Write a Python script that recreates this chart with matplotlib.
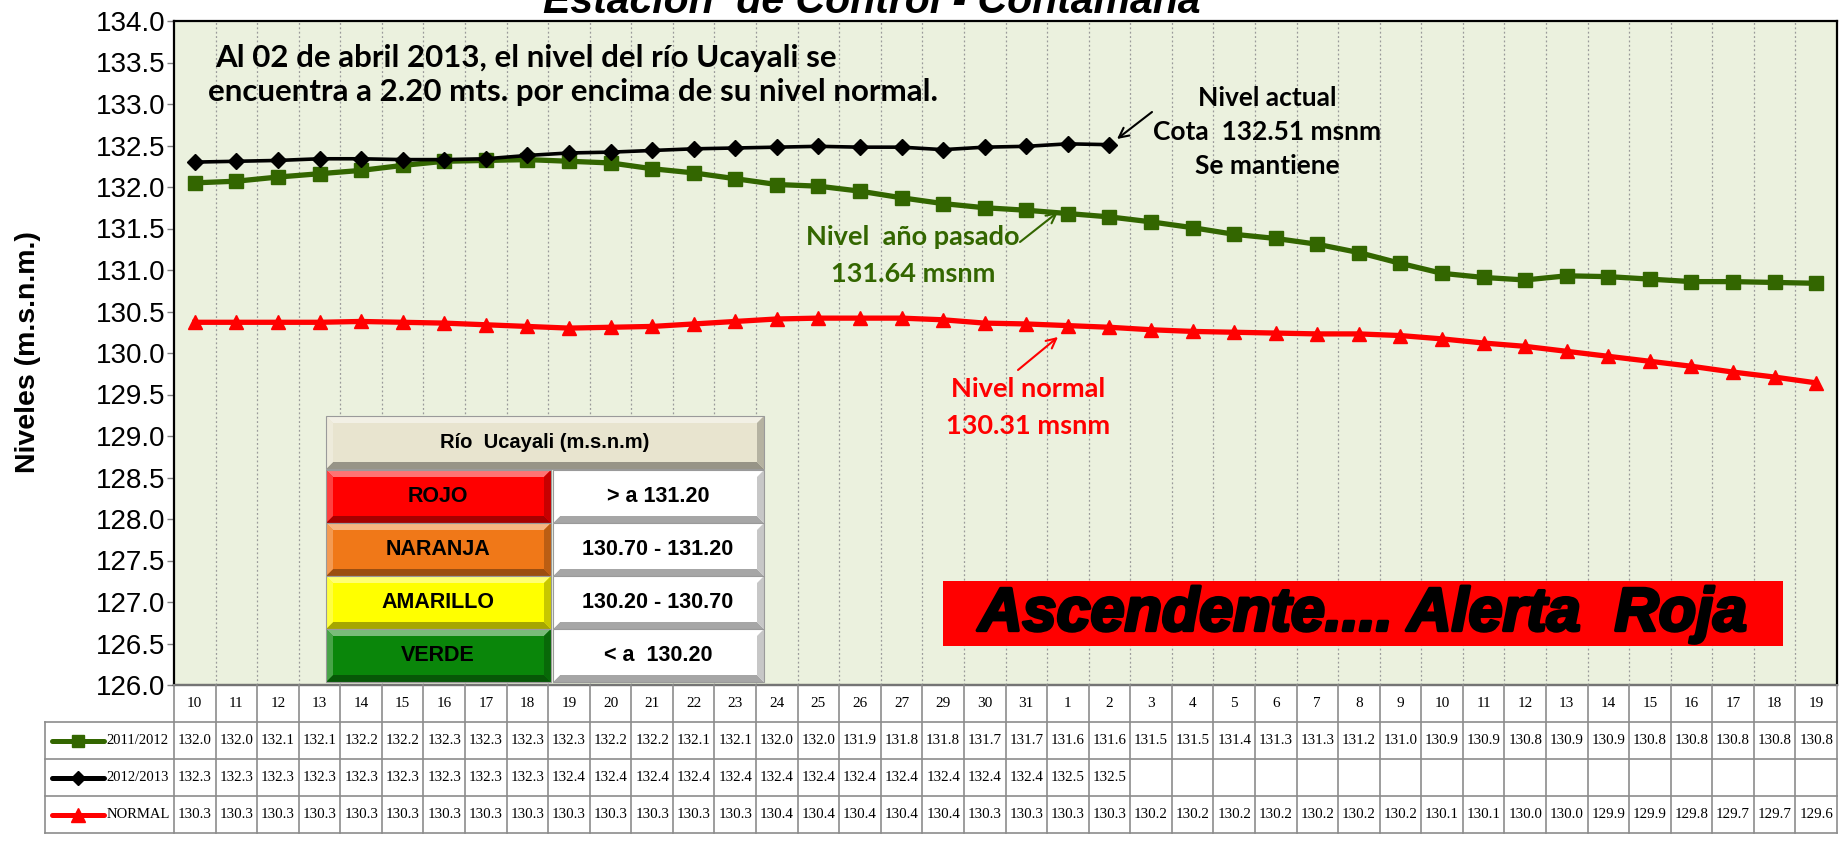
import math
import numpy as np
import matplotlib
matplotlib.use('Agg')
import matplotlib.pyplot as plt
from matplotlib.patches import Rectangle, Polygon
from matplotlib.lines import Line2D
from matplotlib.transforms import Affine2D
import matplotlib.patheffects as pe
import matplotlib.colors as mcolors

# ---------------- data ----------------
days = ['10', '11', '12', '13', '14', '15', '16', '17', '18', '19', '20', '21', '22',
        '23', '24', '25', '26', '27', '29', '30', '31', '1', '2', '3', '4', '5', '6',
        '7', '8', '9', '10', '11', '12', '13', '14', '15', '16', '17', '18', '19']

lvl_2011 = [132.05, 132.07, 132.12, 132.16, 132.20, 132.26, 132.31, 132.32, 132.33, 132.31,
            132.29, 132.22, 132.17, 132.10, 132.03, 132.01, 131.95, 131.87, 131.80, 131.75,
            131.72, 131.68, 131.64, 131.58, 131.51, 131.43, 131.38, 131.31, 131.21, 131.08,
            130.96, 130.91, 130.88, 130.93, 130.92, 130.89, 130.86, 130.86, 130.85, 130.84]

lvl_2012 = [132.30, 132.31, 132.32, 132.34, 132.34, 132.33, 132.33, 132.34, 132.38, 132.41,
            132.42, 132.44, 132.46, 132.47, 132.48, 132.49, 132.48, 132.48, 132.45, 132.48,
            132.49, 132.52, 132.51]

lvl_normal = [130.37, 130.37, 130.37, 130.37, 130.38, 130.37, 130.36, 130.34, 130.32, 130.30,
              130.31, 130.32, 130.35, 130.38, 130.41, 130.42, 130.42, 130.42, 130.40, 130.36,
              130.35, 130.33, 130.31, 130.28, 130.26, 130.25, 130.24, 130.23, 130.23, 130.21,
              130.17, 130.12, 130.08, 130.02, 129.96, 129.90, 129.84, 129.77, 129.71, 129.64]

series_names = ['2011/2012', '2012/2013', 'NORMAL']
y_ticks = np.arange(126.0, 134.01, 0.5)

alert_title = 'Río  Ucayali (m.s.n.m)'
alert_names = ['ROJO', 'NARANJA', 'AMARILLO', 'VERDE']
alert_ranges = ['> a 131.20', '130.70 - 131.20', '130.20 - 130.70', '< a  130.20']
alert_colors = ['#FF0000', '#F07818', '#FFFF00', '#0A860A']

# ---------------- figure ----------------
W, H = 1843, 843
fig = plt.figure(figsize=(W / 100, H / 100), dpi=100)
fig.patch.set_facecolor('white')
P = Affine2D().scale(1 / W, -1 / H).translate(0, 1) + fig.transFigure  # pixel coords, y down

SANS = ['Liberation Sans', 'DejaVu Sans']
SERIF = ['Liberation Serif', 'DejaVu Serif']
CAL = ['Lato', 'DejaVu Sans']

L, R, T, B = 174, 1837, 21, 685
ax = fig.add_axes([L / W, 1 - B / H, (R - L) / W, (B - T) / H])
ax.set_facecolor('#EBF1DE')
n = len(days)
x = np.arange(n)
ax.set_xlim(-0.5, n - 0.5)
ax.set_ylim(126, 134)
for b in np.arange(0.5, n - 0.5, 1):
    ax.axvline(b, color='#9a9a9a', lw=0.9, ls=(0, (1.5, 2)), zorder=1)

c_green = '#336600'
ax.plot(x, lvl_2011, color=c_green, lw=3.8, marker='s', ms=9.5, zorder=3)
ax.plot(x, lvl_normal, color='#FF0000', lw=3.8, marker='^', ms=10, zorder=4)
ax.plot(x[:len(lvl_2012)], lvl_2012, color='black', lw=2.6, marker='D', ms=8.5, zorder=5)

ax.set_yticks(y_ticks)
ax.set_yticklabels([f'{v:.1f}' for v in y_ticks], family=SANS, fontsize=20)
ax.tick_params(axis='y', length=5, width=1, color='#808080', pad=1)
ax.set_xticks([])
for s in ax.spines.values():
    s.set_color('black')
    s.set_linewidth(1.6)

fig.text(28 / W, 1 - 352 / H, 'Niveles (m.s.n.m.)', rotation=90, ha='center', va='center',
         fontsize=20.5, fontweight='bold', family=SANS)

fig.text(872 / W, 1 - 13 / H, 'Estación  de Control - Contamana', ha='center', va='baseline',
         fontsize=29.5, fontweight='bold', style='italic', family=SANS)

# ---------------- data table ----------------
def trunc1(v):
    return math.floor(v * 10 + 1e-6) / 10

TB = 833
tax = fig.add_axes([L / W, 1 - TB / H, (R - L) / W, (TB - B) / H])
tax.set_xlim(-0.5, n - 0.5)
tax.set_ylim(0, 4)
tax.axis('off')
unit = (R - L) / n
x_left = -0.5 - (L - 45) / unit
gc = '#8c8c8c'
tax.plot([-0.5, n - 0.5], [4, 4], color=gc, lw=1.2, clip_on=False)
for yy in [3, 2, 1, 0]:
    tax.plot([x_left, n - 0.5], [yy, yy], color=gc, lw=1.2, clip_on=False)
for bx in np.arange(-0.5, n, 1):
    tax.plot([bx, bx], [0, 4], color=gc, lw=1.2, clip_on=False)
tax.plot([x_left, x_left], [0, 3], color=gc, lw=1.2, clip_on=False)

for i, d in enumerate(days):
    tax.text(i, 3.5, d, ha='center', va='center', fontsize=11, family=SERIF)

rows = [(lvl_2011, c_green, 's', 8), (lvl_2012, 'black', 'D', 7), (lvl_normal, '#FF0000', '^', 10)]
for r, (vals, col, mk, msz) in enumerate(rows):
    yc = 2.5 - r
    for i, v in enumerate(vals):
        tax.text(i, yc, f'{trunc1(v):.1f}', ha='center', va='center', fontsize=10.8,
                 family=SERIF)
    lx0 = x_left + (52 - 45) / unit
    lx1 = x_left + (104 - 45) / unit
    tax.add_line(Line2D([lx0, lx1], [yc, yc], color=col, lw=3.6, solid_capstyle='round',
                        clip_on=False))
    tax.add_line(Line2D([(lx0 + lx1) / 2], [yc], color=col, marker=mk, ms=msz, clip_on=False))
    tax.text(lx1 + 0.06, yc, series_names[r], ha='left', va='center', fontsize=10.5,
             family=SERIF)

# ---------------- bevel boxes ----------------
def blend(c, other, t):
    a = np.array(mcolors.to_rgb(c))
    o = np.array(mcolors.to_rgb(other))
    return tuple(a * (1 - t) + o * t)

def bevel(x0, y0, x1, y1, color, b=7):
    fig.add_artist(Rectangle((x0, y0), x1 - x0, y1 - y0, transform=P, facecolor=color,
                             edgecolor='none', zorder=2))
    polys = [
        ([(x0, y0), (x1, y0), (x1 - b, y0 + b), (x0 + b, y0 + b)], blend(color, 'white', 0.45)),
        ([(x0, y1), (x1, y1), (x1 - b, y1 - b), (x0 + b, y1 - b)], blend(color, 'black', 0.35)),
        ([(x0, y0), (x0 + b, y0 + b), (x0 + b, y1 - b), (x0, y1)], blend(color, 'white', 0.25)),
        ([(x1, y0), (x1 - b, y0 + b), (x1 - b, y1 - b), (x1, y1)], blend(color, 'black', 0.22)),
    ]
    for pts, c in polys:
        fig.add_artist(Polygon(pts, closed=True, transform=P, facecolor=c, edgecolor='none',
                               zorder=2))
    fig.add_artist(Rectangle((x0, y0), x1 - x0, y1 - y0, transform=P, facecolor='none',
                             edgecolor='#9a9a9a', lw=0.8, zorder=2))

hx0, hx1 = 326, 764
bevel(hx0, 416, hx1, 469, '#E8E4CF')
fig.text(((hx0 + hx1) / 2) / W, 1 - 443 / H, alert_title, ha='center', va='center',
         fontsize=14.5, fontweight='bold', family=SANS, zorder=3)
row_edges = [470, 523, 576, 629, 682]
for k in range(4):
    y0, y1 = row_edges[k], row_edges[k + 1]
    bevel(326, y0, 551, y1, alert_colors[k])
    bevel(553, y0, 764, y1, '#FFFFFF')
    fig.text(438 / W, 1 - ((y0 + y1) / 2) / H, alert_names[k], ha='center', va='center',
             fontsize=15.5, fontweight='bold', family=SANS, zorder=3)
    fig.text(658 / W, 1 - ((y0 + y1) / 2) / H, alert_ranges[k], ha='center', va='center',
             fontsize=15.5, fontweight='bold', family=SANS, zorder=3)

# ---------------- red alert banner ----------------
fig.add_artist(Rectangle((943, 581), 1783 - 943, 646 - 581, transform=P, facecolor='#FF0000',
                         edgecolor='none', zorder=2))
fig.text(1363 / W, 1 - 615 / H, 'Ascendente.... Alerta  Roja', ha='center', va='center',
         fontsize=44, fontweight='bold', style='italic', family=SANS, color='black', zorder=3,
         path_effects=[pe.withStroke(linewidth=2.4, foreground='black')])

# ---------------- annotations ----------------
fig.text(215 / W, 1 - 58 / H, 'Al 02 de abril 2013, el nivel del río Ucayali se', ha='left',
         va='center', fontsize=22.5, fontweight='bold', family=CAL)
fig.text(208 / W, 1 - 92 / H, 'encuentra a 2.20 mts. por encima de su nivel normal.', ha='left',
         va='center', fontsize=22.5, fontweight='bold', family=CAL)

for txt, yy in [('Nivel actual', 98), ('Cota  132.51 msnm', 132), ('Se mantiene', 166)]:
    fig.text(1267 / W, 1 - yy / H, txt, ha='center', va='center', fontsize=19,
             fontweight='bold', family=CAL)
for txt, yy in [('Nivel  año pasado', 237), ('131.64 msnm', 274)]:
    fig.text(913 / W, 1 - yy / H, txt, ha='center', va='center', fontsize=19.5,
             fontweight='bold', family=CAL, color=c_green)
for txt, yy in [('Nivel normal', 389), ('130.31 msnm', 426)]:
    fig.text(1028 / W, 1 - yy / H, txt, ha='center', va='center', fontsize=19.5,
             fontweight='bold', family=CAL, color='#FF0000')

def arrow(x0, y0, x1, y1, col):
    ax.annotate('', xy=(x1, y1), xycoords=P, xytext=(x0, y0), textcoords=P,
                arrowprops=dict(arrowstyle='->,head_length=0.7,head_width=0.35', color=col,
                                lw=1.5, shrinkA=0, shrinkB=0), zorder=6)

arrow(1152, 112, 1117, 139, 'black')
arrow(1020, 242, 1058, 212, c_green)
arrow(1018, 370, 1058, 337, '#FF0000')

fig.savefig('out.png', dpi=100, facecolor='white')
